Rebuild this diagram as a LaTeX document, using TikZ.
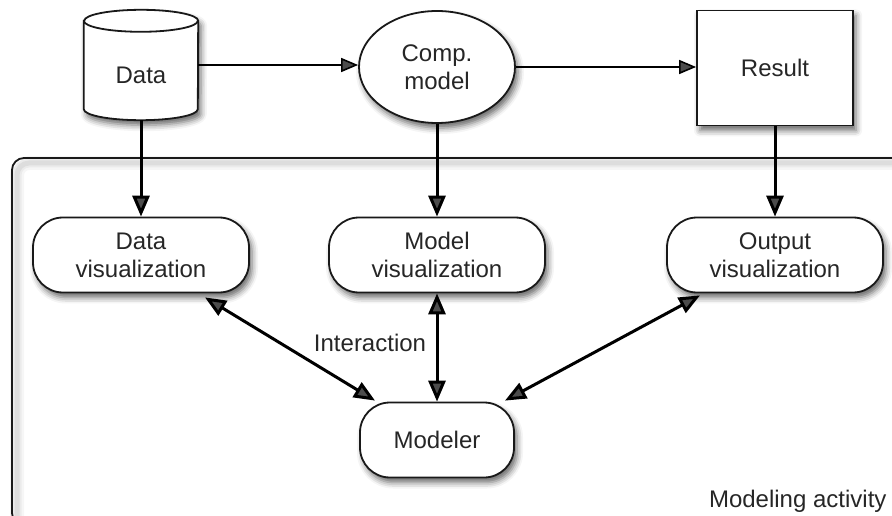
\documentclass[tikz,border=0pt]{standalone}
\usepackage{fontspec}
\setmainfont{Liberation Sans}
\usetikzlibrary{arrows.meta,shadows.blur,calc,shapes.geometric}
\begin{document}
\begin{tikzpicture}[x=1pt,y=1pt,
  every node/.style={font=\fontsize{24}{28}\selectfont, text=black!85},
  softshadow/.style={blur shadow={shadow xshift=3pt,shadow yshift=-5pt,shadow blur radius=6pt,shadow opacity=60}},
  outline/.style={draw=black!90, line width=1.8pt, fill=white},
  pill/.style={outline, rounded corners=30pt, minimum width=216pt, minimum height=75pt, align=center, softshadow},
  flowarrow/.style={line width=1.6pt, -{Triangle[length=17pt,width=14pt]}},
  feedarrow/.style={line width=3pt, -{Triangle[length=21pt,width=17pt]}},
  linkarrow/.style={line width=3pt, {Triangle[length=21pt,width=17pt]}-{Triangle[length=21pt,width=17pt]}},
]
\useasboundingbox (0,0) rectangle (892,515);

% frame of the modeling activity, with a soft shadow of its stroke
\foreach \w/\o in {14/0.035, 9/0.045, 5/0.06}
  \draw[line width=\w pt, black, opacity=\o, rounded corners=12pt]
    (900,352) -- (17,352) -- (17,-10);
\draw[line width=1.8pt, black!90, rounded corners=12pt]
  (900,357) -- (12,357) -- (12,-10) -- (900,-10);
\node[anchor=base east] (activity) at (890,8) {Modeling activity};

% data store (cylinder)
\node[minimum width=114pt, minimum height=110pt, inner sep=0pt] (data) at (141,450) {};
\path[outline, softshadow]
  ([yshift=-11pt]data.north west) -- ([yshift=11pt]data.south west)
  arc[start angle=180, end angle=360, x radius=57, y radius=11]
  -- ([yshift=-11pt]data.north east)
  arc[start angle=0, end angle=180, x radius=57, y radius=11] -- cycle;
\draw[line width=1.8pt, black!90] ([yshift=-11pt]data.north west)
  arc[start angle=180, end angle=360, x radius=57, y radius=11];
\node (datatext) at (141,440) {Data};

% computational model and result
\node[outline, softshadow, ellipse, minimum width=156pt, minimum height=112pt, inner sep=0pt, align=center]
  (comp) at (437,448) {Comp.\\model};
\node[outline, softshadow, rectangle, minimum width=156pt, minimum height=115pt]
  (result) at (775,447) {Result};

% visualizations and the modeler
\node[pill] (dvis) at (141,260) {Data\\visualization};
\node[pill] (mvis) at (437,260) {Model\\visualization};
\node[pill] (ovis) at (775,260) {Output\\visualization};
\node[pill, minimum width=154pt] (modeler) at (437,75) {Modeler};

% connectors
\draw[flowarrow] (data.east) -- (data.east -| comp.west);
\draw[flowarrow] (comp.east) -- (comp.east -| result.west);
\draw[feedarrow] (data.south) -- (dvis.north);
\draw[feedarrow] (comp.south) -- (mvis.north);
\draw[feedarrow] (result.south) -- (ovis.north);
\draw[linkarrow] ([xshift=64pt,yshift=-4pt]dvis.south) -- ([xshift=-62pt,yshift=1pt]modeler.north);
\draw[linkarrow] (mvis.south) -- (modeler.north);
\draw[linkarrow] ([xshift=-75pt,yshift=-2pt]ovis.south) -- ([xshift=68pt,yshift=1pt]modeler.north);
\node (interaction) at (370,172) {Interaction};
\end{tikzpicture}
\end{document}
